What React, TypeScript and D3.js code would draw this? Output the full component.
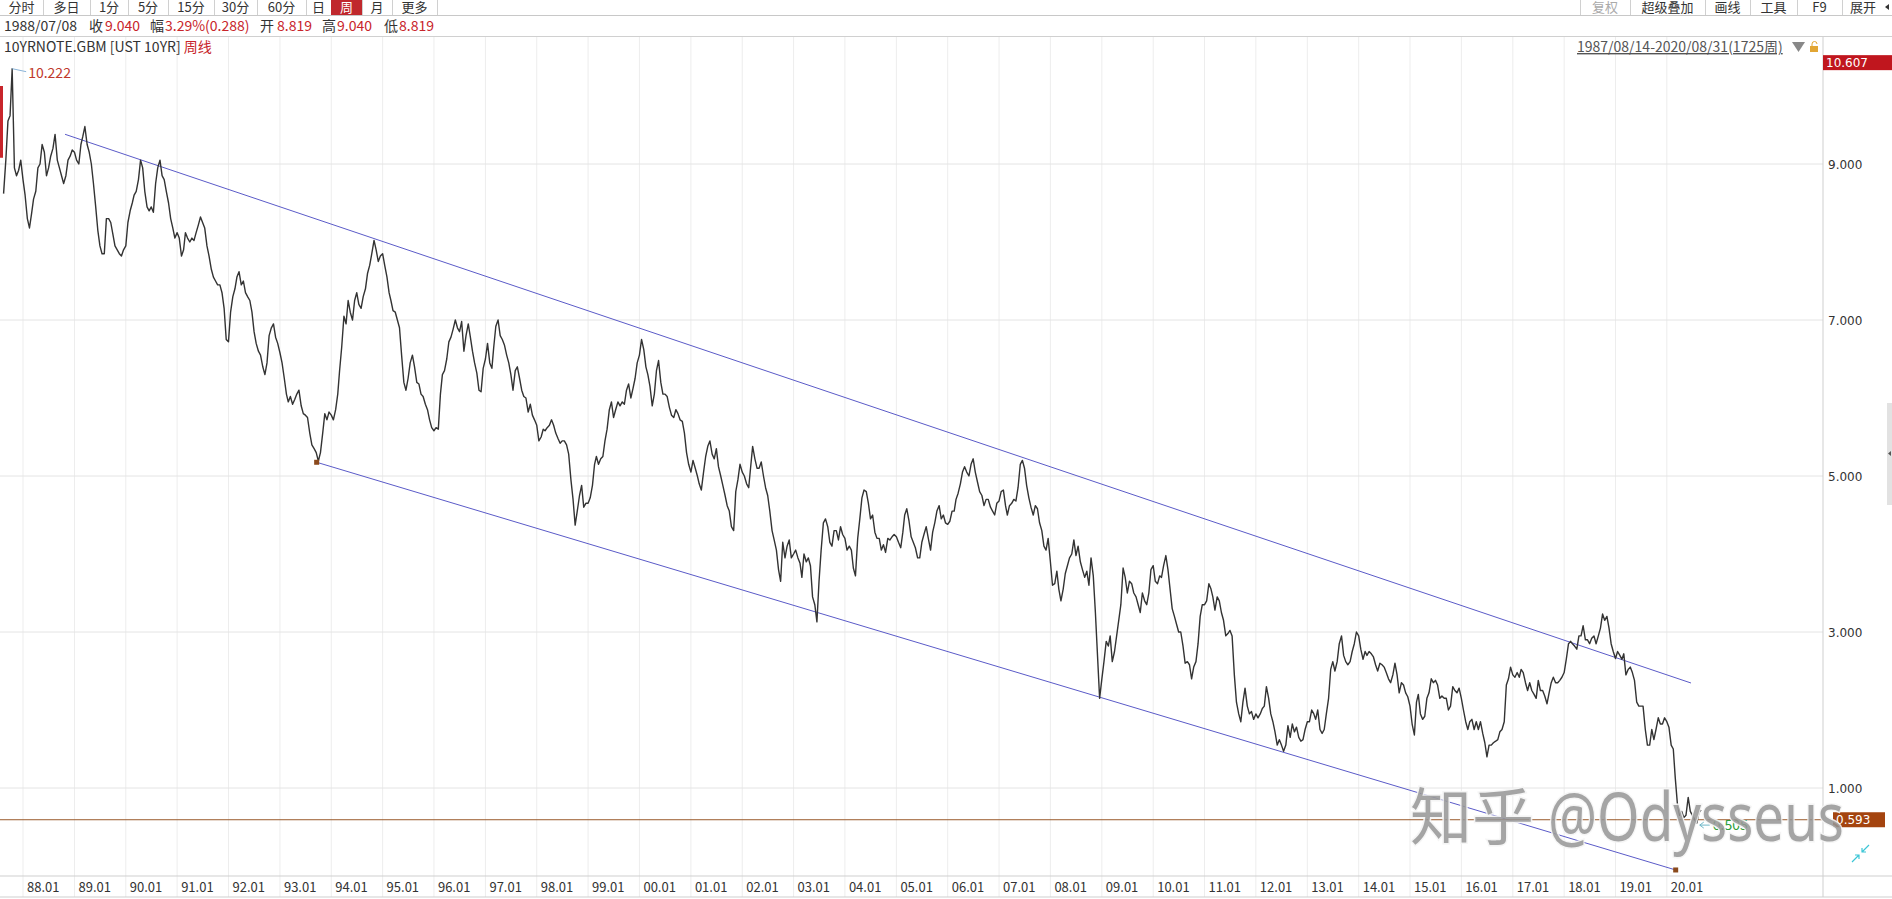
import React, { useEffect } from 'react';
import * as d3 from 'd3';

// ---------------- DATA (half-monthly closes, % yield, UST 10Y) ----------------
// 1987 starts at Aug 16; other years: Jan1, Jan16, Feb1, Feb16, ... Dec1, Dec16
const y1987 = [8.62, 9.05, 9.55, 9.62, 10.222, 8.95, 8.85, 8.92, 9.05];
const y1988 = [8.80, 8.60, 8.30, 8.18, 8.35, 8.55, 8.65, 8.95, 9.00, 9.25, 9.15, 8.85, 8.95, 9.10, 9.20, 9.38, 9.05, 8.95, 8.85, 8.75, 8.85, 9.05, 9.10, 9.18];
const y1989 = [9.15, 9.05, 9.00, 9.25, 9.35, 9.48, 9.25, 9.15, 9.00, 8.75, 8.45, 8.15, 7.95, 7.85, 7.85, 8.30, 8.30, 8.25, 8.10, 7.95, 7.90, 7.85, 7.82, 7.90];
const y1990 = [7.95, 8.25, 8.40, 8.50, 8.60, 8.65, 8.80, 9.05, 8.95, 8.65, 8.45, 8.40, 8.45, 8.38, 8.75, 8.95, 9.05, 8.85, 8.80, 8.65, 8.50, 8.30, 8.18, 8.05];
const y1991 = [8.12, 8.05, 7.82, 7.90, 8.12, 8.05, 8.00, 8.05, 8.02, 8.12, 8.22, 8.32, 8.25, 8.18, 7.95, 7.82, 7.65, 7.55, 7.50, 7.45, 7.45, 7.35, 7.15, 6.75];
const y1992 = [6.72, 7.10, 7.30, 7.40, 7.55, 7.62, 7.45, 7.50, 7.35, 7.30, 7.25, 7.10, 6.85, 6.70, 6.60, 6.55, 6.40, 6.30, 6.45, 6.80, 6.90, 6.95, 6.78, 6.70];
const y1993 = [6.58, 6.45, 6.25, 6.05, 5.95, 6.02, 5.92, 5.98, 6.05, 6.10, 5.90, 5.80, 5.78, 5.75, 5.55, 5.40, 5.35, 5.30, 5.19, 5.30, 5.55, 5.80, 5.72, 5.82];
const y1994 = [5.78, 5.72, 5.85, 6.05, 6.35, 6.65, 7.05, 6.95, 7.25, 7.10, 7.00, 7.25, 7.35, 7.20, 7.15, 7.30, 7.40, 7.60, 7.70, 7.85, 8.02, 7.90, 7.75, 7.82];
const y1995 = [7.85, 7.70, 7.55, 7.35, 7.25, 7.12, 7.10, 7.00, 6.90, 6.55, 6.20, 6.10, 6.25, 6.45, 6.55, 6.40, 6.20, 6.18, 6.05, 6.02, 5.92, 5.85, 5.72, 5.62];
const y1996 = [5.58, 5.62, 5.60, 6.05, 6.30, 6.35, 6.50, 6.72, 6.78, 6.88, 7.00, 6.90, 6.85, 6.98, 6.60, 6.80, 6.95, 6.78, 6.60, 6.45, 6.32, 6.10, 6.08, 6.38];
const y1997 = [6.50, 6.70, 6.45, 6.38, 6.65, 6.92, 7.00, 6.80, 6.75, 6.68, 6.55, 6.45, 6.30, 6.10, 6.35, 6.40, 6.25, 6.10, 6.02, 6.00, 5.82, 5.92, 5.78, 5.72];
const y1998 = [5.65, 5.45, 5.50, 5.60, 5.58, 5.62, 5.65, 5.72, 5.65, 5.55, 5.48, 5.42, 5.45, 5.45, 5.40, 5.28, 4.95, 4.70, 4.37, 4.55, 4.75, 4.88, 4.60, 4.65];
const y1999 = [4.65, 4.72, 4.88, 5.15, 5.25, 5.15, 5.22, 5.25, 5.45, 5.60, 5.85, 5.95, 5.75, 5.85, 5.95, 5.90, 5.95, 5.92, 6.10, 6.18, 6.00, 6.12, 6.25, 6.45];
const y2000 = [6.55, 6.75, 6.62, 6.40, 6.30, 6.15, 5.90, 6.05, 6.35, 6.48, 6.20, 6.05, 6.05, 6.02, 5.88, 5.78, 5.75, 5.85, 5.80, 5.72, 5.70, 5.55, 5.30, 5.15];
const y2001 = [5.05, 5.20, 5.10, 5.00, 4.90, 4.82, 5.05, 5.25, 5.38, 5.45, 5.28, 5.22, 5.35, 5.12, 5.00, 4.88, 4.75, 4.62, 4.55, 4.35, 4.30, 4.80, 4.95, 5.15];
const y2002 = [5.05, 5.00, 4.90, 4.85, 5.10, 5.38, 5.22, 5.10, 5.10, 5.18, 5.00, 4.85, 4.75, 4.55, 4.30, 4.18, 4.05, 3.80, 3.65, 4.15, 3.95, 4.10, 4.18, 3.95];
const y2003 = [4.00, 4.05, 3.95, 3.88, 3.70, 4.00, 3.90, 3.95, 3.85, 3.45, 3.35, 3.13, 3.65, 4.05, 4.40, 4.45, 4.35, 4.15, 4.10, 4.30, 4.30, 4.18, 4.35, 4.25];
const y2004 = [4.20, 4.05, 4.10, 4.05, 3.82, 3.72, 4.20, 4.45, 4.72, 4.82, 4.80, 4.65, 4.45, 4.50, 4.28, 4.20, 4.20, 4.05, 4.12, 4.02, 4.20, 4.18, 4.22, 4.25];
const y2005 = [4.22, 4.15, 4.08, 4.28, 4.50, 4.58, 4.42, 4.22, 4.15, 4.08, 3.95, 3.95, 4.15, 4.25, 4.35, 4.20, 4.05, 4.28, 4.40, 4.55, 4.62, 4.45, 4.50, 4.40];
const y2006 = [4.38, 4.42, 4.55, 4.55, 4.70, 4.78, 4.90, 5.05, 5.12, 5.05, 5.00, 5.15, 5.22, 5.05, 4.92, 4.80, 4.75, 4.62, 4.70, 4.70, 4.60, 4.55, 4.50, 4.65];
const y2007 = [4.68, 4.80, 4.82, 4.62, 4.50, 4.62, 4.65, 4.70, 4.68, 4.85, 5.15, 5.20, 5.10, 4.88, 4.72, 4.60, 4.50, 4.62, 4.58, 4.40, 4.30, 4.10, 4.05, 4.20];
const y2008 = [3.90, 3.60, 3.62, 3.78, 3.55, 3.40, 3.55, 3.75, 3.85, 3.95, 4.00, 4.18, 3.98, 4.10, 3.90, 3.80, 3.70, 3.78, 3.60, 3.95, 3.72, 3.25, 2.70, 2.15];
const y2009 = [2.40, 2.62, 2.88, 2.82, 2.95, 2.62, 2.75, 2.95, 3.15, 3.35, 3.82, 3.70, 3.50, 3.65, 3.62, 3.50, 3.45, 3.35, 3.25, 3.50, 3.40, 3.35, 3.50, 3.80];
const y2010 = [3.85, 3.65, 3.62, 3.72, 3.70, 3.85, 3.98, 3.80, 3.55, 3.30, 3.20, 3.10, 3.00, 3.00, 2.82, 2.60, 2.62, 2.58, 2.40, 2.55, 2.62, 2.85, 3.20, 3.35];
const y2011 = [3.35, 3.40, 3.62, 3.55, 3.45, 3.28, 3.45, 3.40, 3.25, 3.15, 2.95, 2.98, 3.02, 2.95, 2.45, 2.10, 1.95, 1.85, 2.10, 2.28, 2.05, 1.95, 1.98, 1.88];
const y2012 = [1.95, 1.90, 1.95, 2.02, 2.05, 2.30, 2.15, 1.95, 1.85, 1.72, 1.55, 1.62, 1.55, 1.47, 1.55, 1.80, 1.65, 1.82, 1.72, 1.78, 1.65, 1.60, 1.62, 1.75];
const y2013 = [1.85, 1.85, 2.00, 1.95, 1.88, 2.00, 1.75, 1.70, 1.75, 1.95, 2.15, 2.52, 2.62, 2.50, 2.62, 2.85, 2.95, 2.70, 2.62, 2.58, 2.62, 2.75, 2.85, 3.00];
const y2014 = [2.95, 2.78, 2.65, 2.75, 2.70, 2.75, 2.72, 2.68, 2.58, 2.50, 2.60, 2.58, 2.55, 2.48, 2.40, 2.35, 2.45, 2.60, 2.45, 2.22, 2.35, 2.32, 2.22, 2.17];
const y2015 = [2.05, 1.82, 1.68, 2.10, 2.20, 1.95, 1.88, 1.92, 2.15, 2.22, 2.40, 2.35, 2.38, 2.32, 2.15, 2.18, 2.15, 2.15, 2.00, 2.05, 2.30, 2.25, 2.22, 2.28];
const y2016 = [2.15, 2.00, 1.85, 1.75, 1.85, 1.88, 1.75, 1.85, 1.75, 1.85, 1.70, 1.58, 1.40, 1.55, 1.55, 1.58, 1.60, 1.62, 1.72, 1.75, 1.85, 2.32, 2.40, 2.55];
const y2017 = [2.45, 2.42, 2.48, 2.42, 2.52, 2.48, 2.35, 2.25, 2.35, 2.25, 2.20, 2.15, 2.38, 2.25, 2.25, 2.18, 2.08, 2.22, 2.35, 2.42, 2.35, 2.35, 2.38, 2.42];
const y2018 = [2.48, 2.65, 2.85, 2.88, 2.85, 2.82, 2.78, 2.95, 2.95, 3.08, 2.90, 2.90, 2.85, 2.92, 2.95, 2.85, 2.95, 3.05, 3.23, 3.15, 3.20, 3.05, 2.85, 2.75];
const y2019 = [2.66, 2.75, 2.70, 2.65, 2.72, 2.45, 2.52, 2.55, 2.48, 2.38, 2.10, 2.05, 2.05, 2.05, 1.75, 1.55, 1.55, 1.75, 1.62, 1.75, 1.90, 1.82, 1.82, 1.90];
const y2020 = [1.85, 1.78, 1.55, 1.50, 1.13, 0.80, 0.65, 0.70, 0.62, 0.65, 0.88, 0.70, 0.65, 0.60, 0.55, 0.68, 0.72];

const yearArrays: [number, number[]][] = [
  [1987, y1987], [1988, y1988], [1989, y1989], [1990, y1990], [1991, y1991], [1992, y1992],
  [1993, y1993], [1994, y1994], [1995, y1995], [1996, y1996], [1997, y1997], [1998, y1998],
  [1999, y1999], [2000, y2000], [2001, y2001], [2002, y2002], [2003, y2003], [2004, y2004],
  [2005, y2005], [2006, y2006], [2007, y2007], [2008, y2008], [2009, y2009], [2010, y2010],
  [2011, y2011], [2012, y2012], [2013, y2013], [2014, y2014], [2015, y2015], [2016, y2016],
  [2017, y2017], [2018, y2018], [2019, y2019], [2020, y2020],
];

const tickYears = d3.range(1988, 2021);
const yTickValues = [9, 7, 5, 3, 1];
const axisTopValue = 10.607;
const lastMarkValue = 0.593;
const lowCloseLabel = '0.505';

// trend channel anchors [year, month(0-based), day, value]
const upperTrend: [number, number, number, number][] = [[1988, 9, 26, 9.381], [2020, 5, 21, 2.346]];
const lowerTrend: [number, number, number, number][] = [[1993, 8, 19, 5.176], [2020, 2, 4, -0.051]];

const leftToolbar = ['分时', '多日', '1分', '5分', '15分', '30分', '60分', '日', '周', '月', '更多'];
const leftToolbarEdges = [0, 43, 90, 128, 168, 214, 257, 306, 331, 362, 392, 437];
const rightToolbar = ['复权', '超级叠加', '画线', '工具', 'F9', '展开'];
const rightToolbarEdges = [1580, 1630, 1705, 1750, 1797, 1842, 1892];

const START = new Date(1987, 7, 14);
const END = new Date(2020, 7, 31);

type Pt = { d: Date; v: number };
function buildSeries(): Pt[] {
  const pts: Pt[] = [];
  for (const [yr, arr] of yearArrays) {
    const startSlot = yr === 1987 ? 15 : 0;
    arr.forEach((v, k) => {
      const s = startSlot + k;
      let d = new Date(yr, Math.floor(s / 2), s % 2 ? 16 : 1);
      if (d > END) d = END;
      pts.push({ d, v });
    });
  }
  return pts;
}

const CJK = "'Noto Sans CJK SC', 'Noto Sans', sans-serif";
const NUM = "'DejaVu Sans', Verdana, sans-serif";

export default function App() {
  useEffect(() => {
    document.body.style.margin = '0';
    document.body.style.overflow = 'hidden';
  }, []);

  const W = 1892, H = 899;
  const plotTop = 36, plotBottom = 876, axisX = 1823, bottomRow = 897;

  const series = buildSeries();
  const x = d3.scaleTime().domain([START, END]).range([3.3, 1701]);
  const y = d3.scaleLinear().domain([1, 9]).range([788, 164]);

  const line = d3.line<Pt>().x(d => x(d.d)).y(d => y(d.v));
  const maxPt = series.reduce((a, b) => (b.v > a.v ? b : a));
  const minPt = series.reduce((a, b) => (b.v < a.v ? b : a));

  const trendPts = (t: [number, number, number, number][]) =>
    t.map(([yy, m, dd, v]) => ({ d: new Date(yy, m, dd), v }));
  const up = trendPts(upperTrend);
  const lo = trendPts(lowerTrend);

  const red = '#c8252b';
  const gridV = '#ededed';
  const gridH = '#e4e4e4';

  const topLabelY = y(axisTopValue) + 24;
  const markY = y(lastMarkValue);

  return (
    <svg width={W} height={H} style={{ position: 'absolute', left: 0, top: 0, background: '#fff' }}
      xmlns="http://www.w3.org/2000/svg">
      <rect x={0} y={0} width={W} height={H} fill="#fff" />

      {/* vertical year gridlines */}
      {tickYears.map(Y => {
        const tx = x(new Date(Y, 0, 1));
        return <line key={'vg' + Y} x1={tx} x2={tx} y1={plotTop} y2={bottomRow} stroke={gridV} strokeWidth={1} />;
      })}
      {/* horizontal gridlines */}
      {yTickValues.map(v => (
        <line key={'hg' + v} x1={0} x2={axisX} y1={y(v)} y2={y(v)} stroke={gridH} strokeWidth={1} />
      ))}

      {/* left red marker */}
      <rect x={0} y={y(10.0)} width={3} height={y(9.08) - y(10.0)} fill={red} />

      {/* trend channel */}
      <line x1={x(up[0].d)} y1={y(up[0].v)} x2={x(up[1].d)} y2={y(up[1].v)} stroke="#5b5bc8" strokeWidth={1} />
      <line x1={x(lo[0].d)} y1={y(lo[0].v)} x2={x(lo[1].d)} y2={y(lo[1].v)} stroke="#5b5bc8" strokeWidth={1} />

      {/* horizontal mark line */}
      <line x1={0} x2={axisX} y1={markY} y2={markY} stroke="#9a5a2a" strokeWidth={1} />

      {/* price line */}
      <path d={line(series) || ''} fill="none" stroke="#333" strokeWidth={1.4} strokeLinejoin="round" />

      {/* trend anchor squares */}
      {lo.map((p, i) => (
        <rect key={'sq' + i} x={x(p.d) - 2.5} y={y(p.v) - 2.5} width={5} height={5} fill="#8b4a1c" />
      ))}

      {/* max label */}
      <line x1={x(maxPt.d)} y1={y(maxPt.v)} x2={x(maxPt.d) + 14} y2={y(maxPt.v) + 3} stroke="#8ab4d8" strokeWidth={1} />
      <text x={x(maxPt.d) + 16} y={y(maxPt.v) + 9} fontFamily={CJK} fontSize={14} fill="#c0392b">{maxPt.v.toFixed(3)}</text>

      {/* min label */}
      <g>
        <line x1={x(minPt.d) + 3} y1={y(minPt.v) + 2} x2={x(minPt.d) + 13} y2={y(minPt.v) + 2} stroke="#6fb8c8" strokeWidth={1} />
        <path d={`M${x(minPt.d) + 3},${y(minPt.v) + 2} l4,-3 M${x(minPt.d) + 3},${y(minPt.v) + 2} l4,3`} stroke="#6fb8c8" fill="none" />
        <text x={x(minPt.d) + 16} y={y(minPt.v) + 7} fontFamily={CJK} fontSize={14} fill="#2e9e3a">{lowCloseLabel}</text>
      </g>

      {/* bottom axis */}
      <line x1={0} x2={W} y1={plotBottom} y2={plotBottom} stroke="#cfcfcf" />
      <line x1={0} x2={W} y1={bottomRow} y2={bottomRow} stroke="#cfcfcf" />
      {tickYears.map(Y => {
        const tx = x(new Date(Y, 0, 1));
        return (
          <text key={'xl' + Y} x={tx + 4} y={892} fontFamily={CJK} fontSize={13} fill="#333">
            {String(Y % 100).padStart(2, '0') + '.01'}
          </text>
        );
      })}

      {/* right axis */}
      <line x1={axisX} x2={axisX} y1={plotTop} y2={bottomRow} stroke="#cfcfcf" />
      {yTickValues.map(v => (
        <text key={'yl' + v} x={axisX + 5} y={y(v) + 4.5} fontFamily={NUM} fontSize={12} fill="#333">
          {v.toFixed(3)}
        </text>
      ))}
      <rect x={axisX} y={topLabelY - 7.5} width={W - axisX} height={15} fill="#c0161e" />
      <text x={axisX + 3} y={topLabelY + 4.5} fontFamily={NUM} fontSize={12} fill="#fff">{axisTopValue.toFixed(3)}</text>

      <rect x={1833} y={markY - 7.5} width={52} height={15} fill="#a4440f" />
      <text x={1836} y={markY + 4.5} fontFamily={NUM} fontSize={12} fill="#fff">{lastMarkValue.toFixed(3)}</text>

      {/* right edge handle */}
      <rect x={1887} y={403} width={5} height={102} fill="#e2e2e2" />
      <path d="M1891,451 l-3,2.5 l3,2.5 z" fill="#555" />

      {/* collapse icon */}
      <g stroke="#3cc6d6" strokeWidth={1.2} fill="none">
        <path d="M1852,862 L1859,855 M1855,855 L1859,855 L1859,859" />
        <path d="M1869,845 L1862,852 M1862,848 L1862,852 L1866,852" />
      </g>

      {/* ---------- header ---------- */}
      <rect x={0} y={0} width={W} height={15} fill="#fff" />
      <line x1={0} x2={W} y1={15.5} y2={15.5} stroke="#c8c8c8" />
      {leftToolbar.map((t, i) => {
        const a = leftToolbarEdges[i], b = leftToolbarEdges[i + 1];
        const sel = t === '周';
        return (
          <g key={'tb' + i}>
            {sel && <rect x={a} y={0} width={b - a} height={15} fill="#c0282d" />}
            <line x1={b + 0.5} x2={b + 0.5} y1={0} y2={15} stroke="#d0d0d0" />
            <text x={(a + b) / 2} y={12} textAnchor="middle" fontFamily={CJK} fontSize={13} fill={sel ? '#fff' : '#333'}>{t}</text>
          </g>
        );
      })}
      {rightToolbar.map((t, i) => {
        const a = rightToolbarEdges[i], b = rightToolbarEdges[i + 1];
        return (
          <g key={'rt' + i}>
            <line x1={a + 0.5} x2={a + 0.5} y1={0} y2={15} stroke="#d0d0d0" />
            <text x={(a + b) / 2 - (t === '展开' ? 4 : 0)} y={12} textAnchor="middle" fontFamily={CJK} fontSize={13}
              fill={t === '复权' ? '#aaa' : '#333'}>{t}</text>
          </g>
        );
      })}
      <path d="M1889,4 l-4,3 l4,3 z" fill="#333" />

      {/* info row */}
      <line x1={0} x2={W} y1={36.5} y2={36.5} stroke="#d0d0d0" />
      <g fontFamily={CJK} fontSize={14}>
        <text x={4} y={31} fill="#333">1988/07/08</text>
        <text x={89} y={31} fill="#333">收</text>
        <text x={105} y={31} fill="#c8252b">9.040</text>
        <text x={150} y={31} fill="#333">幅</text>
        <text x={165} y={31} fill="#c8252b">3.29%(0.288)</text>
        <text x={260} y={31} fill="#333">开</text>
        <text x={277} y={31} fill="#c8252b">8.819</text>
        <text x={322} y={31} fill="#333">高</text>
        <text x={337} y={31} fill="#c8252b">9.040</text>
        <text x={384} y={31} fill="#333">低</text>
        <text x={399} y={31} fill="#c8252b">8.819</text>
      </g>

      {/* title row */}
      <text x={4} y={52} fontFamily={CJK} fontSize={14} fill="#333">
        10YRNOTE.GBM [UST 10YR] <tspan fill="#c8252b">周线</tspan>
      </text>
      <text x={1577} y={52} fontFamily={CJK} fontSize={14} fill="#555" textDecoration="underline">1987/08/14-2020/08/31(1725周)</text>
      <path d="M1792,42 L1805,42 L1798.5,52 Z" fill="#888" />
      <rect x={1810} y={46} width={8} height={6} fill="#e2a634" />
      <path d="M1812,46 v-2 a2.5,2.5 0 0 1 5,0" stroke="#e2a634" fill="none" strokeWidth={1} />

      {/* watermark */}
      <g fill="#959595" fillOpacity={0.85} stroke="#f4f4f4" strokeWidth={3} strokeOpacity={0.9}
        style={{ paintOrder: 'stroke' } as any}>
        <text x={1410} y={840} fontFamily={CJK} fontSize={62}>知乎</text>
        <text x={1548} y={841} fontFamily={"'Noto Sans', 'Open Sans', sans-serif"} fontSize={68}
          textLength={296} lengthAdjust="spacingAndGlyphs">@Odysseus</text>
      </g>
    </svg>
  );
}
